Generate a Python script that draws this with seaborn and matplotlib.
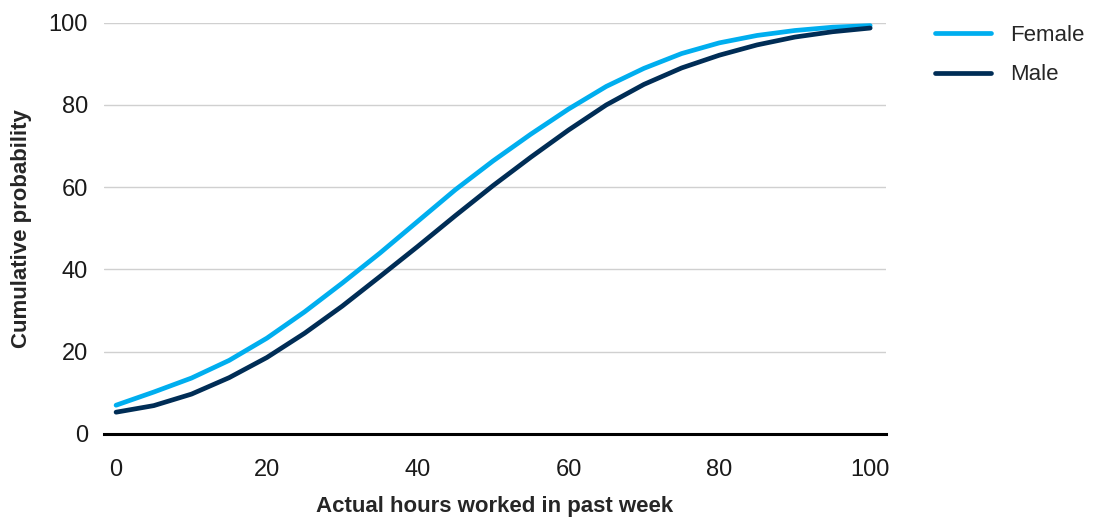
import numpy as np
import pandas as pd
import matplotlib
matplotlib.use("Agg")
import matplotlib.pyplot as plt
import seaborn as sns

hours = [0, 5, 10, 15, 20, 25, 30, 35, 40, 45, 50, 55, 60, 65, 70, 75, 80, 85, 90, 95, 100]
female = [7.0, 10.2, 13.6, 17.9, 23.3, 29.7, 36.7, 44.0, 51.7, 59.4, 66.4, 72.9, 79.0, 84.5, 88.9, 92.5, 95.1, 96.9, 98.1, 98.9, 99.3]
male = [5.3, 6.9, 9.7, 13.7, 18.6, 24.5, 31.1, 38.3, 45.6, 53.1, 60.4, 67.3, 73.9, 80.0, 85.0, 89.0, 92.1, 94.6, 96.5, 97.8, 98.7]
series_names = ["Female", "Male"]
colors = ["#00AEEF", "#002D56"]
x_ticks = [0, 20, 40, 60, 80, 100]
y_ticks = [0, 20, 40, 60, 80, 100]

df = pd.concat([
    pd.DataFrame({"hours": hours, "prob": female, "sex": "Female"}),
    pd.DataFrame({"hours": hours, "prob": male, "sex": "Male"}),
])

sns.set_theme(style="white")
plt.rcParams['font.family'] = ['Liberation Sans', 'DejaVu Sans']

fig = plt.figure(figsize=(10.97, 5.22), dpi=100)
ax = fig.add_axes([104/1097, 1 - 434/522, (886-104)/1097, (434-22.7)/522])

sns.lineplot(data=df, x="hours", y="prob", hue="sex", hue_order=series_names,
             palette=dict(zip(series_names, colors)), linewidth=3.4,
             solid_capstyle="round", solid_joinstyle="round", ax=ax, legend=True)

ax.set_xlim(-1.6, 102.1)
ax.set_ylim(0, 100)
ax.set_xticks(x_ticks)
ax.set_yticks(y_ticks)
ax.set_xticklabels([str(t) for t in x_ticks])
ax.set_yticklabels([str(t) for t in y_ticks])
ax.tick_params(axis="y", length=0, pad=11.5, labelsize=17, colors="#1a1a1a")
ax.tick_params(axis="x", length=0, pad=18, labelsize=17, colors="#1a1a1a")

ax.grid(axis="y", color="#d0d0d0", linewidth=1.0)
ax.grid(axis="x", visible=False)
for s in ["top", "right", "left"]:
    ax.spines[s].set_visible(False)
ax.spines["bottom"].set_color("black")
ax.spines["bottom"].set_linewidth(2.2)
ax.spines["bottom"].set_zorder(5)

label_font = dict(family=['Liberation Sans Narrow', 'Liberation Sans', 'DejaVu Sans'],
                  weight="bold", size=16)
ax.set_xlabel("Actual hours worked in past week", labelpad=11, **label_font)
ax.set_ylabel("Cumulative probability", labelpad=12, **label_font)

leg = ax.legend(loc="upper left", bbox_to_anchor=(915/1097, 1 - 5/522),
                bbox_transform=fig.transFigure, frameon=False, fontsize=16,
                handlelength=2.5, handletextpad=0.9, labelspacing=0.83)
for line in leg.get_lines():
    line.set_linewidth(3.4)
    line.set_solid_capstyle("round")

fig.savefig("out.png", dpi=100)
